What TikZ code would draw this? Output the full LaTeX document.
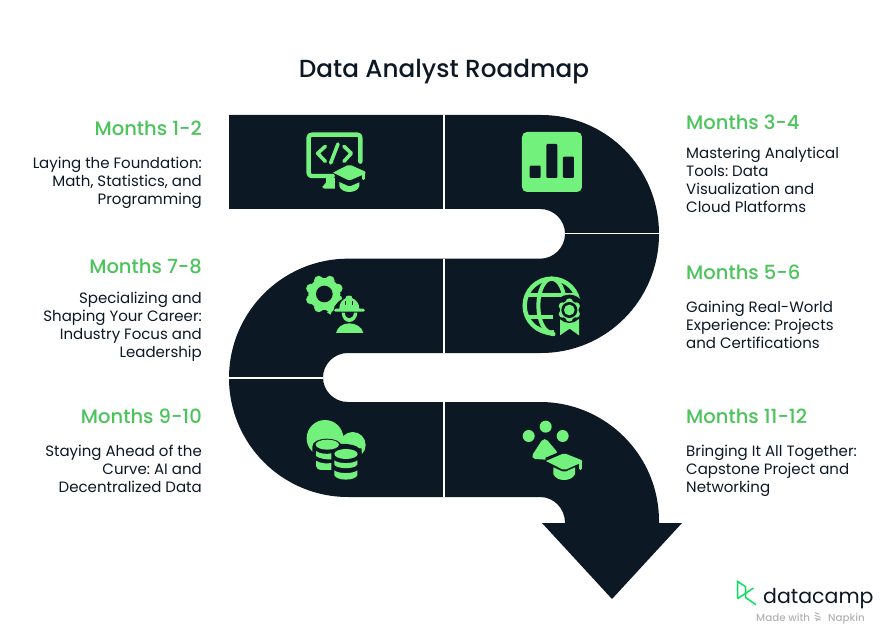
\documentclass[tikz,border=0pt]{standalone}
\usepackage{fontspec}
\setmainfont{Poppins}
\newfontfamily\medfont{Poppins Medium}
\definecolor{ink}{HTML}{0D1825}
\definecolor{lime}{HTML}{72F27C}
\definecolor{headgreen}{HTML}{4BC45B}
\definecolor{logogreen}{HTML}{05E05F}
\definecolor{logogray}{HTML}{B4B4B4}
\tikzset{
  ribbon/.style={fill=ink,draw=none},
  divider/.style={draw=white,line width=1.6pt},
  headl/.style={anchor=base east,inner sep=0pt,text=headgreen,font=\medfont\fontsize{19.5}{24}\selectfont},
  headr/.style={anchor=base west,inner sep=0pt,text=headgreen,font=\medfont\fontsize{19.5}{24}\selectfont},
  bodyl/.style={anchor=north east,inner sep=0pt,align=right,text=ink,font=\fontsize{15}{18}\selectfont},
  bodyr/.style={anchor=north west,inner sep=0pt,align=left,text=ink,font=\fontsize{15}{18}\selectfont},
  ico/.style={fill=lime,draw=none},
  icoline/.style={draw=lime,line cap=round,line join=round},
  icodark/.style={fill=ink,draw=none}
}
\begin{document}
\frenchspacing
\begin{tikzpicture}[x=1pt,y=-1pt]
\useasboundingbox (0,0) rectangle (888,644);
\fill[white] (0,0) rectangle (888,644);
% ribbon
\path[ribbon] (229,115) -- (541,115)
  .. controls (606.7,115) and (659,168.3) .. (659,234)
  .. controls (659,299.7) and (606.7,353) .. (541,353)
  -- (348,353)
  .. controls (334.2,353) and (323,364) .. (323,377.5)
  .. controls (323,391) and (334.2,402) .. (348,402)
  -- (540,402)
  .. controls (605.7,402) and (659,455.3) .. (659,521)
  -- (659,523) -- (682,523) -- (612,599) -- (542,523) -- (565,523)
  .. controls (565,508.5) and (554,497) .. (540,497)
  -- (348,497)
  .. controls (282.3,497) and (229,443.7) .. (229,378)
  .. controls (229,312.3) and (282.3,258.7) .. (348,258.7)
  -- (540,258.7)
  .. controls (553.8,258.7) and (565,247.5) .. (565,233.7)
  .. controls (565,220) and (553.8,209) .. (540,209)
  -- (229,209) -- cycle;
\draw[divider] (444,115) -- (444,209);
\draw[divider] (444,258.7) -- (444,353);
\draw[divider] (444,402) -- (444,497);
\draw[divider] (565,233.5) -- (659.5,233.5);
\draw[divider] (228.5,378) -- (323,378);
% title
\node[anchor=base,inner sep=0pt,text=ink,font=\medfont\fontsize{24.7}{30}\selectfont] (title) at (444,77.5) {Data Analyst Roadmap};
% labels left
\node[headl] (h12) at (202,136) {Months 1-2};
\node[bodyl] (b12) at (202,156.5) {Laying the Foundation:\\Math, Statistics, and\\Programming};
\node[headl] (h78) at (202,273) {Months 7-8};
\node[bodyl] (b78) at (202,292) {Specializing and\\Shaping Your Career:\\Industry Focus and\\Leadership};
\node[headl] (h910) at (202,423) {Months 9-10};
\node[bodyl] (b910) at (202,445) {Staying Ahead of the\\Curve: AI and\\Decentralized Data};
% labels right
\node[headr] (h34) at (686,130) {Months 3-4};
\node[bodyr] (b34) at (686,147) {Mastering Analytical\\Tools: Data\\Visualization and\\Cloud Platforms};
\node[headr] (h56) at (686,279) {Months 5-6};
\node[bodyr] (b56) at (686,300.5) {Gaining Real-World\\Experience: Projects\\and Certifications};
\node[headr] (h1112) at (686,423) {Months 11-12};
\node[bodyr] (b1112) at (686,444.5) {Bringing It All Together:\\Capstone Project and\\Networking};
% icon 1: monitor and cap
\begin{scope}[shift={(220,100)},x=0.3333pt,y=-0.3333pt]
\draw[icoline,line width=4.4pt] (421,185) -- (421,113) .. controls (421,107) and (418,104) .. (412,104) -- (276,104) .. controls (270,104) and (266,107) .. (266,113) -- (266,219) .. controls (266,225) and (270,228) .. (276,228) -- (338,228);
\path[ico] (318,234) -- (345,234) -- (345,266) -- (312,266) .. controls (305,266) and (305,256) .. (312,255) .. controls (318,252) and (320,244) .. (318,234) -- cycle;
\draw[icoline,line width=3.6pt] (316,139) -- (293,160) -- (316,184);
\draw[icoline,line width=3.6pt] (372,139) -- (394,160) -- (372,184);
\draw[icoline,line width=3.6pt] (354,132) -- (332,189);
\path[ico] (339,218) -- (382,196) .. controls (386,194) and (390,194) .. (394,196) -- (434,214) .. controls (438,217) and (438,220) .. (434,222) -- (395,239) .. controls (390,241) and (386,241) .. (382,239) -- cycle;
\draw[icoline,line width=3pt] (431,218) -- (431,236);
\path[ico] (358,246) -- (382,257) .. controls (386,259) and (391,259) .. (395,257) -- (418,247) -- (418,258) .. controls (416,270) and (400,276) .. (388,276) .. controls (376,276) and (360,270) .. (358,258) -- cycle;
\end{scope}
% icon 2: chart
\begin{scope}[shift={(440,100)},x=0.3333pt,y=-0.3333pt]
\path[ico,rounded corners=5pt] (246,96) rectangle (426,276);
\path[icodark,rounded corners=1pt] (269,197) rectangle (302,234);
\path[icodark,rounded corners=1pt] (319,132) rectangle (352,234);
\path[icodark,rounded corners=1pt] (369,170) rectangle (402,234);
\end{scope}
% icon 3: gear and worker
\begin{scope}[shift={(280,260)},x=1pt,y=-1pt,scale=0.3333]
\foreach \a in {22.5,67.5,...,360}{
  \fill[lime] (133,102) ++(\a:44) circle (14);
}
\fill[lime] (133,102) circle (48);
\fill[ink] (133,102) circle (25);
\fill[ink] (208,160) circle (48);
\path[ico] (141,157) -- (158,146) -- (152,164) -- cycle;
% helmet
\path[ico] (178,146) .. controls (178,130) and (186,120) .. (198,114) -- (198,110) .. controls (198,106) and (216,106) .. (216,110) -- (216,114) .. controls (228,120) and (238,130) .. (238,146) -- (250,146) .. controls (256,148) and (256,154) .. (250,155) -- (167,155) .. controls (160,154) and (160,148) .. (167,146) -- cycle;
\draw[ink,line width=1pt] (196,124) -- (196,136);
\draw[ink,line width=1pt] (219,124) -- (219,136);
\path[ico] (185,158) .. controls (186,175) and (195,186) .. (208,186) .. controls (221,186) and (231,175) .. (232,158) -- (222,158) .. controls (220,170) and (215,175) .. (208,175) .. controls (200,175) and (196,170) .. (194,158) -- cycle;
\path[ico] (168,219) .. controls (172,200) and (190,190) .. (208,190) .. controls (226,190) and (246,200) .. (250,219) -- cycle;
\end{scope}
% icon 4: globe and badge
\begin{scope}[shift={(500,260)},x=1pt,y=-1pt,scale=0.3333]
\draw[lime,line width=4.4pt] (155,137) circle (81);
\draw[lime,line width=4pt] (155,137) ellipse (40 and 81);
\draw[lime,line width=4pt] (82,105) -- (228,105);
\draw[lime,line width=4pt] (82,172) -- (158,172);
\fill[ink] (208,150) circle (46);
\fill[ink] (163,150) rectangle (250,240);
\draw[lime,line width=4.4pt,line cap=round] (112,205) .. controls (128,215) and (145,219) .. (160,222);
\path[ico] (180,176) -- (237,176) -- (237,226) -- (209,206) -- (180,226) -- cycle;
\fill[ink] (208,150) circle (39);
\foreach \a in {30,90,...,330}{
  \fill[lime] (208,150) ++(\a:24) circle (11);
}
\fill[lime] (208,150) circle (28);
\fill[ink] (208,150) circle (24);
\fill[lime] (208,150) circle (16);
\end{scope}
% icon 5: cloud and databases
\begin{scope}[shift={(280,400)},x=1pt,y=-1pt,scale=0.3333]
\fill[lime] (135,115) circle (55);
\fill[lime] (218,135) circle (39);
\fill[lime] (135,135) rectangle (218,174);
\fill[ink] (97,140) .. controls (97,108) and (185,108) .. (185,140) -- (185,145) -- (245,145) -- (245,250) -- (97,250) -- cycle;
\fill[ink] (222,155) -- (250,165) -- (240,250) -- (200,250) -- cycle;
\fill[ink] (155,145) .. controls (155,125) and (245,125) .. (245,160) -- (245,250) -- (155,250) -- cycle;
\fill[lime] (142,134) ellipse (35 and 15);
\path[ico] (108,153) .. controls (120,162) and (140,163) .. (154,160) -- (154,178) .. controls (140,179) and (118,176) .. (108,168) -- cycle;
\path[ico] (108,182) .. controls (120,190) and (140,192) .. (154,189) -- (154,210) -- (125,210) .. controls (115,209) and (108,205) .. (108,198) -- cycle;
\fill[lime] (198,162) ellipse (35 and 15);
\path[ico] (163,181) .. controls (175,192) and (220,192) .. (232,181) -- (232,194) .. controls (225,208) and (170,208) .. (163,194) -- cycle;
\path[ico] (163,211) .. controls (175,222) and (220,222) .. (232,211) -- (232,226) .. controls (225,243) and (170,243) .. (163,226) -- cycle;
\end{scope}
% icon 6: triangle and cap
\begin{scope}[shift={(500,410)},x=1pt,y=-1pt,scale=0.3333]
\fill[lime] (137,50) circle (18);
\fill[lime] (86,78) circle (18);
\fill[lime] (188,78) circle (18);
\path[ico] (125,92) .. controls (130,86) and (138,86) .. (143,92) -- (170,124) .. controls (172,128) and (170,129) .. (167,130) -- (136,143) -- (137,149) -- (105,147) .. controls (97,146) and (94,138) .. (99,132) -- cycle;
\path[ico] (138,153) -- (187,132) .. controls (191,130) and (195,130) .. (199,132) -- (244,150) .. controls (248,152) and (248,156) .. (244,158) -- (199,178) .. controls (195,180) and (191,180) .. (187,178) -- cycle;
\draw[icoline,line width=3pt] (240,155) -- (240,176);
\path[ico] (160,172) -- (187,184) .. controls (191,186) and (195,186) .. (199,184) -- (225,172) -- (225,192) .. controls (220,205) and (205,210) .. (192,210) .. controls (180,210) and (165,205) .. (160,192) -- cycle;
\end{scope}
% logo
\draw[logogreen,line width=1.5pt,line join=miter] (737.7,598.5) -- (737.7,581.5) -- (745.7,586.8) -- (745.7,597.5) -- (756,604.8);
\draw[logogreen,line width=1.5pt] (737.7,598.5) -- (753.5,588);
\node[anchor=base west,inner sep=0pt,text=ink,font=\fontsize{20.5}{26}\selectfont] (logo) at (763,603) {datacamp};
\node[anchor=base west,inner sep=0pt,text=logogray,font=\medfont\fontsize{10.3}{12}\selectfont] (made) at (756,621) {Made with};
\node[anchor=base west,inner sep=0pt,text=logogray,font=\medfont\fontsize{10.3}{12}\selectfont] (napkin) at (828,621) {Napkin};
\begin{scope}[shift={(720,570)},x=1pt,y=-1pt,scale=0.3333]
\draw[logogray,line width=1pt] (284,128) -- (298,132) (284,136) -- (302,142) (284,144) -- (302,150) (288,152) -- (298,146);
\end{scope}
\end{tikzpicture}
\end{document}
